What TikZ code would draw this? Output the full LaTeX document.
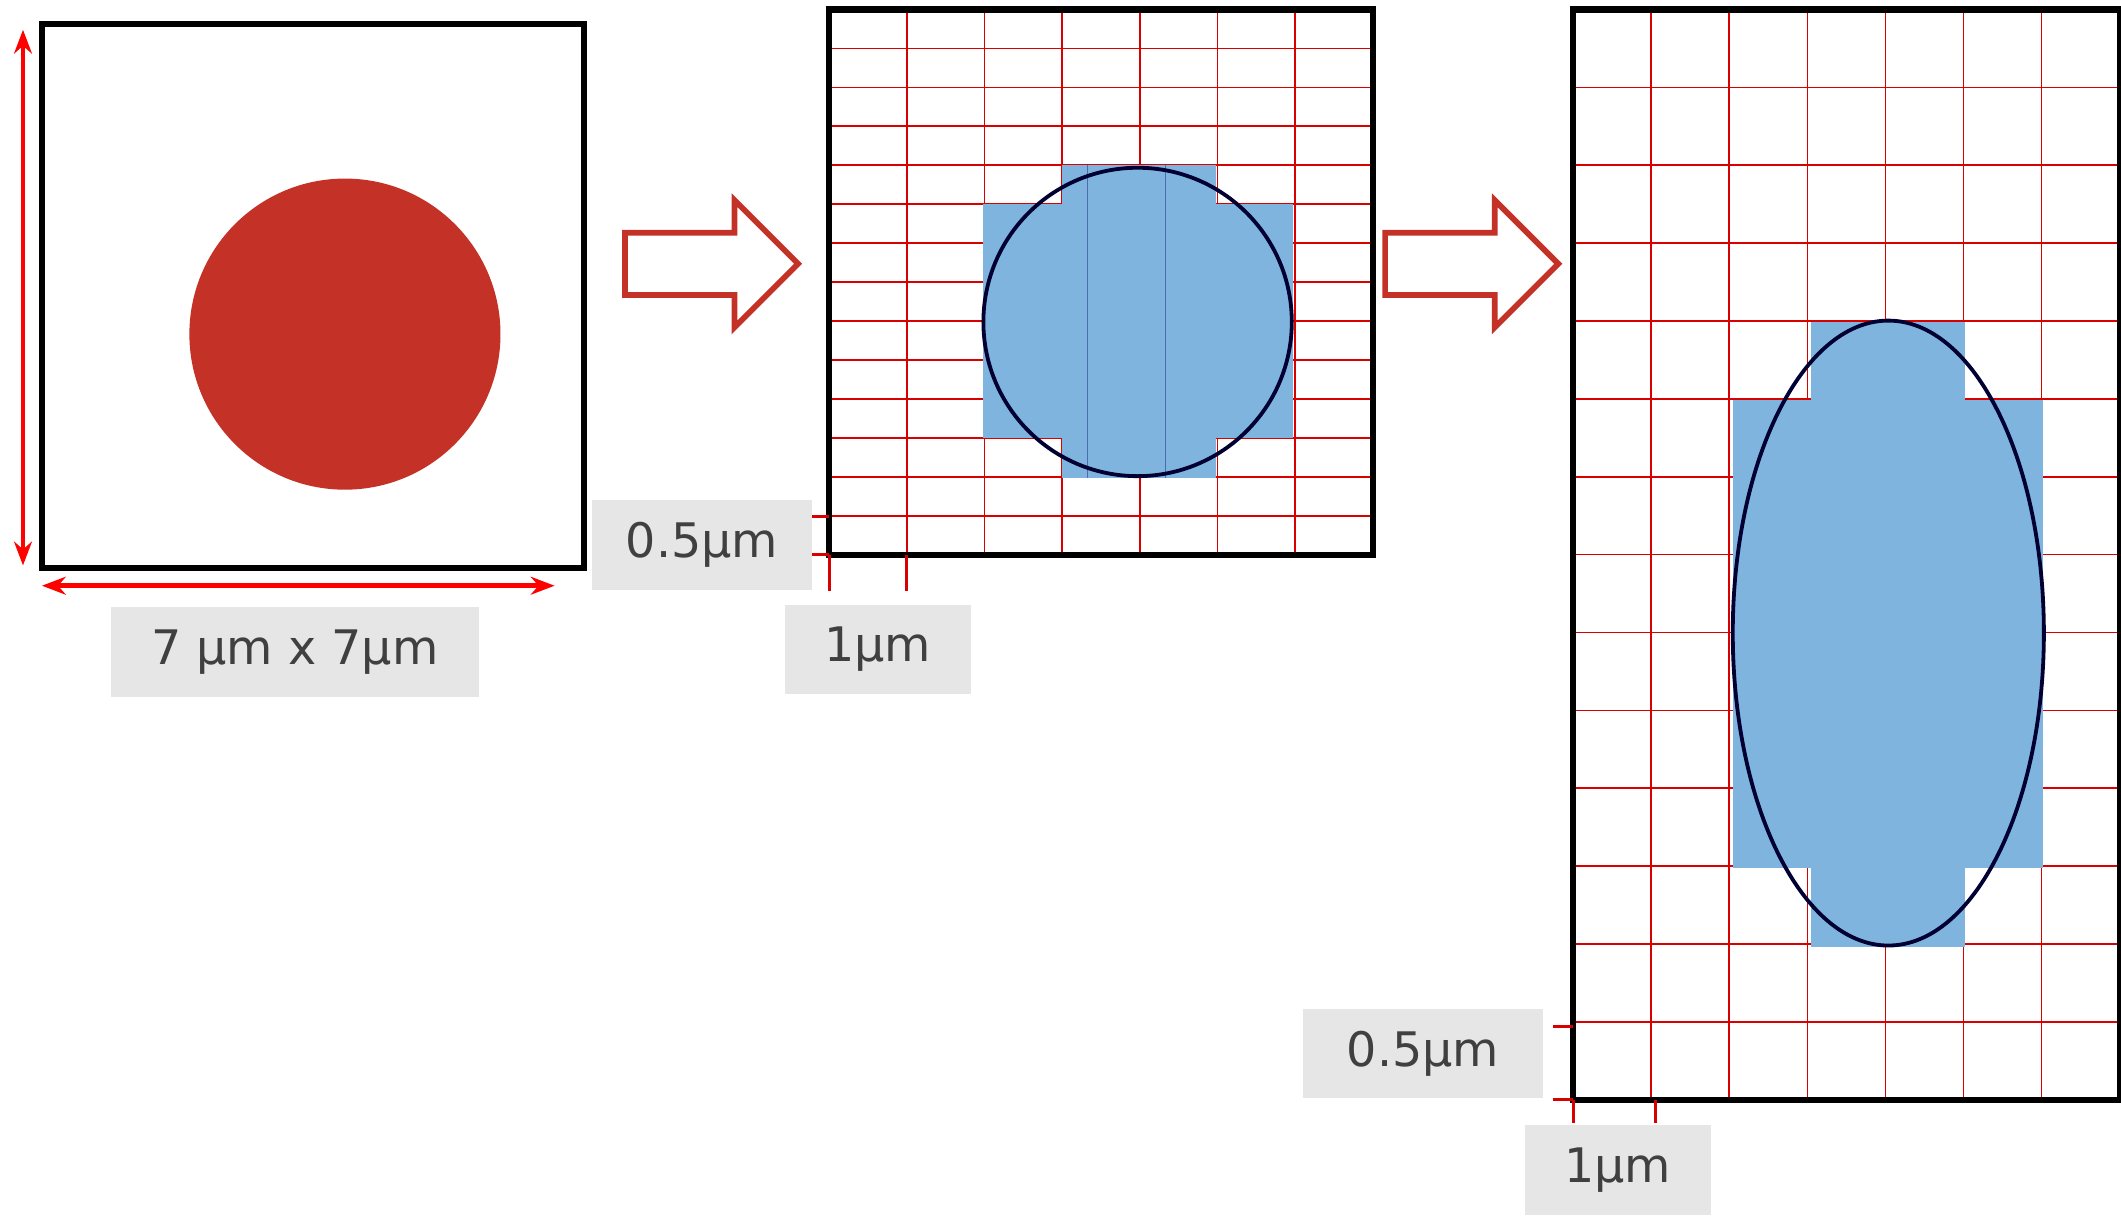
\documentclass[tikz,border=0pt]{standalone}
\usepackage{fontspec}
\setmainfont{DejaVu Sans}
\usetikzlibrary{arrows.meta}
\definecolor{dotred}{HTML}{C43227}
\definecolor{cellblue}{HTML}{7EB4DE}
\definecolor{lblgray}{HTML}{E6E6E6}
\definecolor{lbltext}{HTML}{404040}
\tikzset{
  frame/.style={line width=1.3pt},
  gridline/.style={red!85!black, line width=0.35pt},
  tick/.style={red!85!black, line width=0.6pt},
  lbl/.style={fill=lblgray, text=lbltext, inner sep=0pt,
    font=\fontsize{10}{12}\selectfont},
  blockarrow/.style={draw=dotred, line width=1.2pt, fill=white},
  dim/.style={red, line width=1pt, {Stealth[length=5pt]}-{Stealth[length=5pt]}},
}
\begin{document}
\begin{tikzpicture}[x=0.01cm,y=-0.01cm]
  \useasboundingbox (0,0) rectangle (1568,905);
  % source square with dot
  \fill[dotred] (255,247) circle (115);
  \draw[frame] (31,18) rectangle (432,420);
  \coordinate (v1) at (17,22);  \coordinate (v2) at (17,418);
  \coordinate (h1) at (31,433); \coordinate (h2) at (410,433);
  \draw[dim] (v1) -- (v2);
  \draw[dim] (h1) -- (h2);
  \node (size) [lbl, minimum width=2.72cm, minimum height=0.66cm] at (218,482) {7 µm x 7µm};
  % block arrows
  \foreach \ax in {462,1024}
    \draw[blockarrow] (\ax,172) -- ++(81,0) -- ++(0,-24) -- ++(47,47)
      -- ++(-47,47) -- ++(0,-24) -- ++(-81,0) -- cycle;
  % square grid
  \foreach \i in {1,...,6} \draw[gridline] (613+57.43*\i,7) -- (613+57.43*\i,410);
  \foreach \j in {1,...,13} \draw[gridline] (613,7+28.79*\j) -- (1015,7+28.79*\j);
  \fill[cellblue] (785,122) rectangle (899,151);
  \fill[cellblue] (727,151) rectangle (956,324);
  \fill[cellblue] (785,324) rectangle (899,353);
  \draw[blue!40!black, line width=0.3pt, opacity=0.4]
    (785,122) grid[xstep=57.43,ystep=28.79] (899,353);
  \draw[black!80!blue, line width=0.8pt] (841,238) circle (114);
  \draw[frame] (613,7) rectangle (1015,410);
  \draw[tick] (600,382) -- (613,382) (600,410) -- (613,410)
              (613,410) -- (613,437) (670,410) -- (670,437);
  \node (dy1) [lbl, minimum width=1.62cm, minimum height=0.66cm] at (519,403) {0.5µm};
  \node (dx1) [lbl, minimum width=1.38cm, minimum height=0.66cm] at (649,480) {1µm};
  % stretched grid
  \foreach \i in {1,...,6} \draw[gridline] (1163+57.71*\i,7) -- (1163+57.71*\i,813);
  \foreach \j in {1,...,13} \draw[gridline] (1163,7+57.57*\j) -- (1567,7+57.57*\j);
  \fill[cellblue] (1339,238) rectangle (1453,296);
  \fill[cellblue] (1281,296) rectangle (1510,642);
  \fill[cellblue] (1339,642) rectangle (1453,700);
  \draw[black!80!blue, line width=0.8pt] (1396,468) ellipse (115 and 231);
  \draw[frame] (1163,7) rectangle (1567,813);
  \draw[tick] (1148,759) -- (1163,759) (1148,813) -- (1163,813)
              (1163,813) -- (1163,830) (1224,813) -- (1224,830);
  \node (dy2) [lbl, minimum width=1.78cm, minimum height=0.66cm] at (1052,779) {0.5µm};
  \node (dx2) [lbl, minimum width=1.37cm, minimum height=0.66cm] at (1196,865) {1µm};
\end{tikzpicture}
\end{document}
